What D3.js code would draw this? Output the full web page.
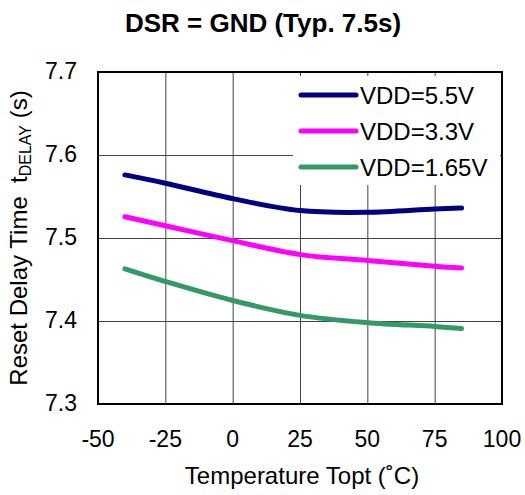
<!DOCTYPE html>
<html>
<head>
<meta charset="utf-8">
<script src="https://cdn.jsdelivr.net/npm/d3@7"></script>
<style>
  body { margin: 0; background: #fff; }
  svg { display: block; font-family: "Liberation Sans", Arial, Helvetica, sans-serif; }
</style>
</head>
<body>
<div class="svg-container"></div>
<script>
// data
const temps = [-40, -25, 0, 25, 50, 75, 85];
const vdd55 = [7.576, 7.566, 7.5475, 7.533, 7.531, 7.535, 7.536];
const vdd33 = [7.5256, 7.5148, 7.4968, 7.480, 7.473, 7.466, 7.4638];
const vdd165 = [7.4628, 7.4476, 7.4247, 7.4068, 7.398, 7.3935, 7.391];
const seriesNames = ["VDD=5.5V", "VDD=3.3V", "VDD=1.65V"];
const seriesColors = ["#000080", "#ff00ff", "#339966"];
const xTicks = [-50, -25, 0, 25, 50, 75, 100];
const yTicks = [7.3, 7.4, 7.5, 7.6, 7.7];

function load_contents(){
  const width = 525, height = 495;
  const left = 98, top = 72, right = 502, bottom = 404;

  let svg = d3.select(".svg-container")
    .append("svg")
    .attr("width", width)
    .attr("height", height);

  let xScale = d3.scaleLinear().domain([-50, 100]).range([left, right]);
  let yScale = d3.scaleLinear().domain([7.3, 7.7]).range([bottom, top]);

  // grid lines
  svg.append("g")
    .attr("transform", "translate(0," + bottom + ")")
    .call(d3.axisBottom(xScale).tickValues(xTicks).tickSize(-(bottom - top)).tickFormat(""))
    .call(g => g.select(".domain").remove())
    .selectAll("line").attr("stroke", "#444").attr("stroke-width", 1);

  svg.append("g")
    .attr("transform", "translate(" + left + ",0)")
    .call(d3.axisLeft(yScale).tickValues(yTicks).tickSize(-(right - left)).tickFormat(""))
    .call(g => g.select(".domain").remove())
    .selectAll("line").attr("stroke", "#444").attr("stroke-width", 1);

  // tick labels
  svg.append("g").selectAll("text")
    .data(xTicks)
    .enter().append("text")
    .attr("x", d => xScale(d))
    .attr("y", 447)
    .attr("text-anchor", "middle")
    .attr("font-size", "23px")
    .text(d => d);

  svg.append("g").selectAll("text")
    .data(yTicks)
    .enter().append("text")
    .attr("x", 77)
    .attr("y", d => yScale(d))
    .attr("dy", "0.3em")
    .attr("text-anchor", "end")
    .attr("font-size", "23px")
    .text(d => d3.format(".1f")(d));

  // legend background hides grid
  svg.append("rect")
    .attr("x", 293).attr("y", 76)
    .attr("width", 207).attr("height", 109)
    .attr("fill", "#fff");

  // curves
  let line = d3.line()
    .x((d, i) => xScale(temps[i]))
    .y(d => yScale(d))
    .curve(d3.curveCatmullRom.alpha(0.5));

  let allSeries = [vdd55, vdd33, vdd165];
  svg.append("g").selectAll("path")
    .data(allSeries)
    .enter().append("path")
    .attr("d", d => line(d))
    .attr("fill", "none")
    .attr("stroke", (d, i) => seriesColors[i])
    .attr("stroke-width", 5)
    .attr("stroke-linecap", "round")
    .attr("stroke-linejoin", "round");

  // frame
  svg.append("rect")
    .attr("x", left).attr("y", top)
    .attr("width", right - left).attr("height", bottom - top)
    .attr("fill", "none")
    .attr("stroke", "#000")
    .attr("stroke-width", 2);

  // legend
  let legend = svg.append("g").selectAll("g")
    .data(seriesNames)
    .enter().append("g")
    .attr("transform", (d, i) => "translate(0," + (95 + i * 36) + ")");
  legend.append("line")
    .attr("x1", 301).attr("x2", 356)
    .attr("stroke", (d, i) => seriesColors[i])
    .attr("stroke-width", 5)
    .attr("stroke-linecap", "round");
  legend.append("text")
    .attr("x", 360)
    .attr("y", 8.5)
    .attr("font-size", "24px")
    .text(d => d);

  // title
  svg.append("text")
    .attr("x", 263)
    .attr("y", 32)
    .attr("text-anchor", "middle")
    .attr("font-size", "26px")
    .attr("font-weight", "bold")
    .text("DSR = GND (Typ. 7.5s)");

  // x axis title
  svg.append("text")
    .attr("x", 302)
    .attr("y", 484)
    .attr("text-anchor", "middle")
    .attr("font-size", "24px")
    .text("Temperature Topt (\u02DAC)");

  // y axis title with subscript
  let yTitle = svg.append("text")
    .attr("transform", "translate(27," + ((top + bottom) / 2) + ") rotate(-90)")
    .attr("text-anchor", "middle")
    .attr("font-size", "24px");
  yTitle.append("tspan").text("Reset Delay Time\u00A0\u00A0t");
  yTitle.append("tspan").attr("font-size", "16px").attr("dy", 4).text("DELAY");
  yTitle.append("tspan").attr("dy", -4).text("\u00A0(s)");
}

load_contents();
</script>
</body>
</html>
